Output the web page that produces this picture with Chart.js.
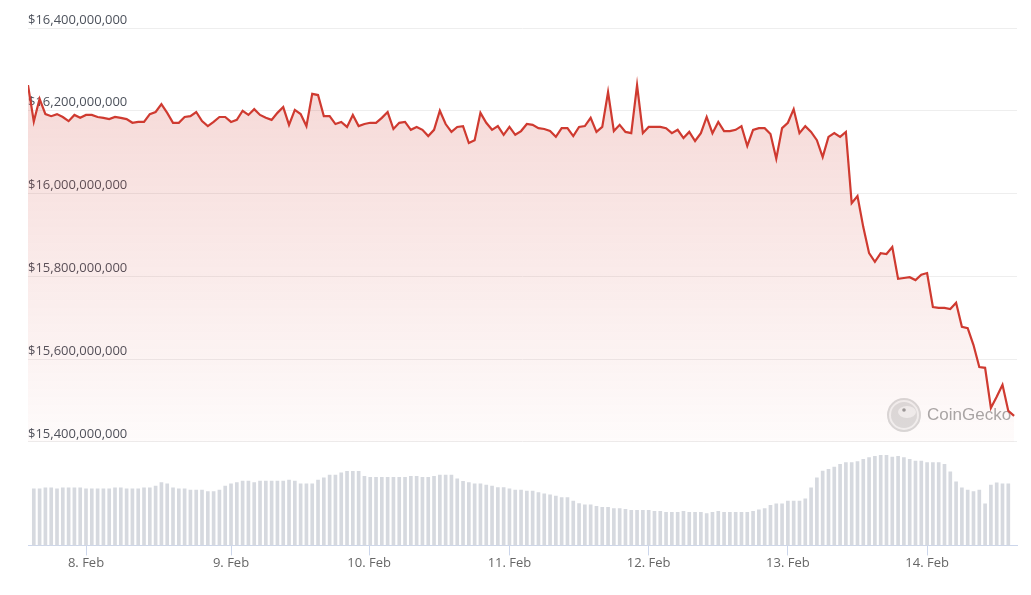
<!DOCTYPE html>
<html>
<head>
<meta charset="utf-8">
<script src="https://cdn.jsdelivr.net/npm/chart.js@4.4.1/dist/chart.umd.min.js"></script>
<style>
  html, body { margin: 0; padding: 0; background: #fff; }
  #wrap { width: 1031px; height: 595px; }
</style>
</head>
<body>
<div id="wrap"><canvas id="chart"></canvas></div>
<script>
// market cap in $ millions, one value per hour
const marketCap = [
  16262, 16174, 16229, 16192, 16187, 16192, 16185, 16175, 16190, 16183,
  16190, 16190, 16185, 16183, 16180, 16185, 16183, 16180, 16171, 16173,
  16173, 16192, 16197, 16216, 16195, 16171, 16171, 16185, 16187, 16197,
  16175, 16163, 16173, 16185, 16185, 16173, 16178, 16200, 16190, 16204,
  16190, 16183, 16178, 16195, 16209, 16166, 16202, 16192, 16163, 16241,
  16238, 16187, 16187, 16168, 16173, 16161, 16190, 16163, 16168, 16171,
  16171, 16183, 16197, 16156, 16171, 16173, 16154, 16161, 16154, 16139,
  16154, 16200, 16168, 16149, 16161, 16163, 16122, 16129, 16195, 16171,
  16154, 16163, 16142, 16161, 16142, 16151, 16168, 16166, 16158, 16156,
  16151, 16137, 16158, 16158, 16139, 16161, 16163, 16183, 16149, 16161,
  16245, 16151, 16166, 16149, 16146, 16262, 16146, 16161, 16161, 16161,
  16158, 16146, 16154, 16134, 16149, 16127, 16146, 16185, 16146, 16173,
  16151, 16151, 16154, 16163, 16115, 16154, 16158, 16158, 16144, 16084,
  16158, 16171, 16204, 16146, 16163, 16149, 16129, 16088, 16137, 16146,
  16137, 16149, 15977, 15994, 15919, 15856, 15835, 15856, 15854, 15871,
  15794, 15796, 15798, 15791, 15804, 15808, 15726, 15724, 15724, 15721,
  15736, 15678, 15675, 15634, 15581, 15579, 15482, 15509, 15538, 15475,
  15463
];

// volume in $ millions, hours 1..169
const volume = [
  1127, 1127, 1147, 1147, 1127, 1147, 1147, 1147, 1147, 1127,
  1127, 1127, 1127, 1127, 1147, 1147, 1127, 1127, 1127, 1147,
  1147, 1180, 1253, 1227, 1147, 1127, 1127, 1100, 1100, 1100,
  1073, 1073, 1100, 1180, 1227, 1253, 1280, 1280, 1253, 1280,
  1280, 1280, 1280, 1280, 1300, 1280, 1227, 1227, 1227, 1300,
  1347, 1400, 1400, 1447, 1473, 1473, 1473, 1373, 1353, 1353,
  1353, 1353, 1353, 1353, 1353, 1373, 1373, 1353, 1353, 1373,
  1400, 1400, 1400, 1327, 1273, 1253, 1227, 1227, 1200, 1180,
  1153, 1153, 1127, 1100, 1100, 1080, 1080, 1053, 1027, 1007,
  980, 953, 953, 880, 833, 807, 807, 780, 760, 760,
  733, 733, 720, 700, 700, 700, 700, 680, 680, 660,
  660, 660, 680, 660, 660, 660, 633, 660, 680, 660,
  660, 660, 660, 660, 680, 707, 733, 800, 827, 827,
  880, 880, 880, 927, 1147, 1347, 1480, 1513, 1560, 1613,
  1647, 1647, 1667, 1713, 1747, 1773, 1793, 1793, 1760, 1773,
  1747, 1713, 1680, 1680, 1647, 1647, 1647, 1613, 1467, 1267,
  1147, 1100, 1073, 1100, 827, 1200, 1247, 1227, 1227
];

const dayLabels = ["8. Feb", "9. Feb", "10. Feb", "11. Feb", "12. Feb", "13. Feb", "14. Feb"];
const dayTickHours = [10, 35, 58.8, 83, 107, 131, 155];

const capPoints = marketCap.map((v, i) => ({ x: i, y: v }));
const volPoints = volume.map((v, i) => ({ x: i + 1, y: v }));

const lineColor = '#cf3a30';
const fontFamily = '"Open Sans", "Liberation Sans", Arial, sans-serif';

const watermark = {
  id: 'watermark',
  beforeDatasetsDraw(chart) {
    const ctx = chart.ctx;
    const a = chart.chartArea;
    const cx = a.right - 113, cy = a.top + 387;
    ctx.save();
    ctx.beginPath();
    ctx.arc(cx, cy, 16, 0, Math.PI * 2);
    ctx.fillStyle = '#f2f2f2';
    ctx.fill();
    ctx.lineWidth = 2;
    ctx.strokeStyle = '#d9d9d9';
    ctx.stroke();
    ctx.beginPath();
    ctx.arc(cx, cy, 13, 0, Math.PI * 2);
    ctx.fillStyle = '#dcdcdc';
    ctx.fill();
    ctx.beginPath();
    ctx.ellipse(cx + 3, cy - 3, 9, 6, 0, 0, Math.PI * 2);
    ctx.fillStyle = '#f0f0f0';
    ctx.fill();
    ctx.beginPath();
    ctx.arc(cx, cy - 5, 1.8, 0, Math.PI * 2);
    ctx.fillStyle = '#9a9a9a';
    ctx.fill();
    ctx.fillStyle = '#a8a8a8';
    ctx.font = '17px "Liberation Sans", Arial, sans-serif';
    ctx.textBaseline = 'middle';
    ctx.fillText('CoinGecko', cx + 23, cy);
    ctx.restore();
  }
};

new Chart(document.getElementById('chart'), {
  data: {
    datasets: [
      {
        type: 'line',
        label: 'Market Cap',
        data: capPoints,
        yAxisID: 'y',
        borderColor: lineColor,
        borderWidth: 2.2,
        pointRadius: 0,
        tension: 0,
        fill: 'start',
        backgroundColor: (context) => {
          const chart = context.chart;
          const s = chart.scales.y;
          if (!chart.chartArea || !s || s.bottom === undefined) return 'rgba(207,58,48,0.1)';
          const g = chart.ctx.createLinearGradient(0, s.top, 0, s.bottom);
          g.addColorStop(0, 'rgba(207,58,48,0.22)');
          g.addColorStop(1, 'rgba(207,58,48,0.02)');
          return g;
        }
      },
      {
        type: 'bar',
        label: 'Volume',
        data: volPoints,
        yAxisID: 'y2',
        backgroundColor: '#d6d9df',
        barThickness: 3
      }
    ]
  },
  options: {
    responsive: true,
    maintainAspectRatio: false,
    animation: false,
    layout: { padding: { left: 28, right: 14, top: 28, bottom: 24 } },
    plugins: { legend: { display: false }, tooltip: { enabled: false } },
    scales: {
      x: {
        type: 'linear',
        offset: false,
        min: 0,
        max: 170.5,
        afterBuildTicks: (scale) => { scale.ticks = dayTickHours.map(v => ({ value: v })); },
        ticks: {
          autoSkip: false,
          maxRotation: 0,
          padding: 0,
          color: '#666666',
          font: { family: fontFamily, size: 13 },
          callback: (v, i) => dayLabels[i]
        },
        grid: { offset: false, drawOnChartArea: false, drawTicks: true, tickLength: 10, color: '#ccd6eb' },
        border: { display: true, color: '#ccd6eb' }
      },
      y: {
        type: 'linear',
        position: 'left',
        stack: 'main',
        stackWeight: 4,
        weight: 2,
        min: 15400,
        max: 16400,
        ticks: {
          stepSize: 200,
          mirror: true,
          padding: 0,
          labelOffset: -8,
          color: '#4d525c',
          font: { family: fontFamily, size: 13 },
          callback: (v) => '$' + (v * 1e6).toLocaleString('en-US')
        },
        grid: { color: '#eeeeee', drawTicks: false },
        border: { display: false }
      },
      y2: {
        type: 'linear',
        position: 'left',
        stack: 'main',
        stackWeight: 1,
        weight: 1,
        min: 0,
        max: 2060,
        ticks: { display: false },
        grid: { display: false, drawTicks: false },
        border: { display: false }
      }
    }
  },
  plugins: [watermark]
});
</script>
</body>
</html>
